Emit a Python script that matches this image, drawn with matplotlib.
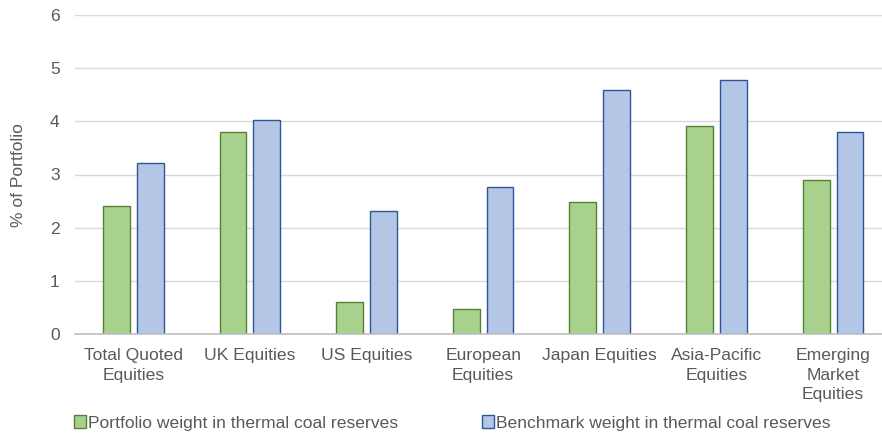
import matplotlib
matplotlib.use("Agg")
import matplotlib.pyplot as plt
import numpy as np

categories = ["Total Quoted\nEquities", "UK Equities", "US Equities", "European\nEquities",
              "Japan Equities", "Asia-Pacific\nEquities", "Emerging\nMarket\nEquities"]
portfolio_weight = [2.41, 3.80, 0.61, 0.47, 2.48, 3.92, 2.89]
benchmark_weight = [3.22, 4.02, 2.32, 2.76, 4.59, 4.78, 3.80]
series_names = ["Portfolio weight in thermal coal reserves",
                "Benchmark weight in thermal coal reserves"]
y_ticks = [0, 1, 2, 3, 4, 5, 6]

plt.rcParams["font.family"] = ["Liberation Sans", "DejaVu Sans"]
text_color = "#595959"
fs = 12.6

fig = plt.figure(figsize=(8.82, 4.33), dpi=100)
ax = fig.add_axes([75 / 882, 1 - 334 / 433, 1 - 75 / 882, (334 - 15) / 433])

x = np.arange(len(categories))
w = 0.23
off = 0.145
ax.bar(x - off, portfolio_weight, w, color="#A9D18E", edgecolor="#548235",
       linewidth=1.0, label=series_names[0], zorder=3)
ax.bar(x + off, benchmark_weight, w, color="#B4C7E7", edgecolor="#2F5597",
       linewidth=1.0, label=series_names[1], zorder=3)

ax.set_ylim(0, 6)
ax.set_xlim(-0.5, 6.42)
ax.set_yticks(y_ticks)
ax.set_xticks(x)
ax.set_xticklabels(categories, fontsize=fs, color=text_color, linespacing=1.4)
ax.tick_params(axis="y", labelsize=fs, labelcolor=text_color, length=0, pad=11)
ax.tick_params(axis="x", length=0, pad=10)
ax.yaxis.grid(True, color="#D9D9D9", linewidth=1.0, zorder=0)
ax.set_axisbelow(True)
for s in ["top", "right", "left"]:
    ax.spines[s].set_visible(False)
ax.spines["bottom"].set_color("#BFBFBF")
ax.spines["bottom"].set_linewidth(1.2)
ax.spines["bottom"].set_zorder(4)

fig.text(19 / 882, 1 - 175 / 433, "% of Portfolio", rotation=90, fontsize=fs,
         color=text_color, ha="center", va="center")

leg = fig.legend(loc="center left", bbox_to_anchor=(74 / 882, 10 / 433), ncol=2,
                 frameon=False, fontsize=fs, handlelength=0.7, handleheight=0.7,
                 handletextpad=0.1, columnspacing=4.8, borderpad=0, borderaxespad=0)
for t in leg.get_texts():
    t.set_color(text_color)

fig.savefig("out.png", dpi=100)
